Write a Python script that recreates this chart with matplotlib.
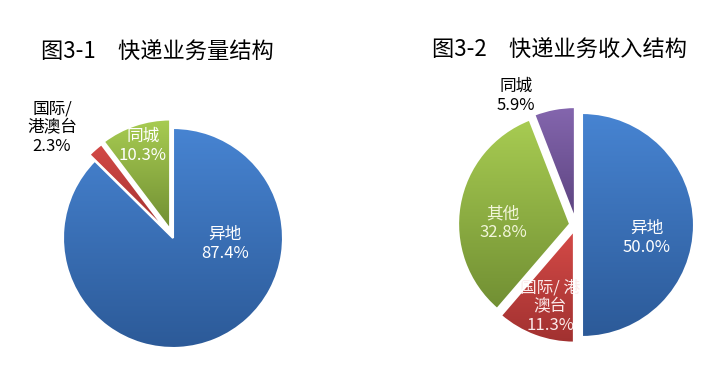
import numpy as np
import matplotlib
matplotlib.use("Agg")
import matplotlib.pyplot as plt
import matplotlib.colors as mcolors

plt.rcParams['font.family'] = ['Noto Sans CJK SC', 'DejaVu Sans']

# ---- data ----
left_title = "图3-1　快递业务量结构"
left_labels = ["异地", "国际/\n港澳台", "同城"]
left_values = [87.4, 2.3, 10.3]

right_title = "图3-2　快递业务收入结构"
right_labels = ["异地", "国际/ 港\n澳台", "其他", "同城"]
right_values = [50.0, 11.3, 32.8, 5.9]

# ---- styles ----
grad = {
    "blue": ("#4784D2", "#2C5A98"),
    "red": ("#D44A47", "#A13130"),
    "green": ("#A8CC52", "#718F33"),
    "purple": ("#8466AE", "#5C437F"),
}
left_colors = ["blue", "red", "green"]
right_colors = ["blue", "red", "green", "purple"]

W, H = 715, 373
fig = plt.figure(figsize=(W / 100, H / 100), dpi=100)
ax = fig.add_axes([0, 0, 1, 1])
ax.set_xlim(0, W)
ax.set_ylim(0, H)
ax.set_aspect('equal')
ax.axis('off')


def fill_gradient(wedges, cols, zorder):
    for w, c in zip(wedges, cols):
        top, bot = grad[c]
        ct = np.array(mcolors.to_rgb(top))
        cb = np.array(mcolors.to_rgb(bot))
        ext = w.get_path().get_extents(w.get_patch_transform())
        t = np.linspace(0, 1, 256)[:, None]
        img = (ct[None, :] * (1 - t) + cb[None, :] * t)[:, None, :]
        img = np.repeat(img, 2, axis=1)
        im = ax.imshow(img, extent=[ext.x0, ext.x1, ext.y0, ext.y1], origin='upper',
                       aspect='auto', zorder=zorder, interpolation='bilinear')
        im.set_clip_path(w)
        w.set_facecolor('none')


# ---- left pie ----
lc = (173, H - 238)
lw, _ = ax.pie(left_values, startangle=90, counterclock=False, radius=110, center=lc,
               explode=[0, 8, 9], frame=True,
               wedgeprops=dict(edgecolor='white', linewidth=1.5))
fill_gradient(lw, left_colors, 1)
for w in lw:
    w.set_zorder(2)

# ---- right pie ----
rc = (576, H - 225)
rw, _ = ax.pie(right_values, startangle=90, counterclock=False, radius=112, center=rc,
               explode=[6, 6, 6, 6], frame=True,
               wedgeprops=dict(edgecolor='white', linewidth=1.5))
fill_gradient(rw, right_colors, 3)
for w in rw:
    w.set_zorder(4)

ax.set_xlim(0, W)
ax.set_ylim(0, H)
ax.axis('off')

# ---- titles ----
ax.text(157, H - 52, left_title, fontsize=16, ha='center', va='center', color='black')
ax.text(559, H - 50, right_title, fontsize=16, ha='center', va='center', color='black')

# ---- labels ----
fs = 12
def lab(x, y, name, val, color, z=6):
    ax.text(x, H - y, f"{name}\n{val:.1f}%", fontsize=fs, ha='center', va='center',
            color=color, linespacing=1.15, zorder=z)

lab(225, 244, left_labels[0], left_values[0], 'white')
lab(52, 128, left_labels[1], left_values[1], 'black')
lab(143, 146, left_labels[2], left_values[2], 'white')

lab(647, 238, right_labels[0], right_values[0], 'white')
lab(550, 307, right_labels[1], right_values[1], '#FBEAEA', z=3.5)
lab(503, 223, right_labels[2], right_values[2], '#F2F6DA')
lab(516, 96, right_labels[3], right_values[3], 'black')

fig.savefig("out.png", dpi=100, facecolor='white')
